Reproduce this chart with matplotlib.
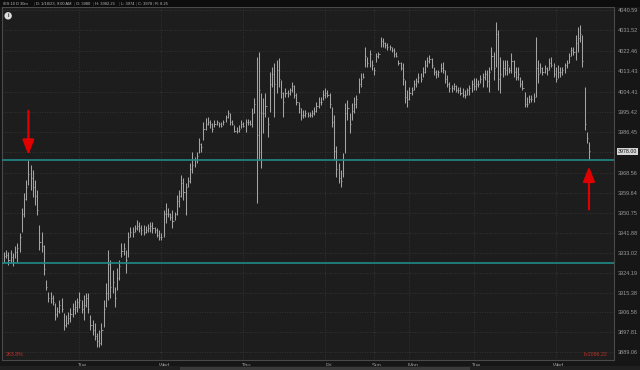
import matplotlib
matplotlib.use("Agg")
import matplotlib.pyplot as plt
import matplotlib.transforms as mtransforms
from matplotlib.collections import LineCollection
from matplotlib.patches import Rectangle
import numpy as np

# /ES 30 minute bars, 10 days (high, low, close)
highs = [
    3933.4, 3934.3, 3933.4, 3934.3, 3933.0, 3936.0, 3937.4, 3941.8, 3952.9, 3959.5,
    3965.3, 3974.1, 3971.9, 3969.7, 3965.3, 3960.8, 3945.3, 3942.2, 3936.5, 3921.0,
    3915.6, 3915.6, 3914.3, 3910.8, 3909.0, 3912.1, 3913.0, 3906.4, 3905.5, 3906.8,
    3908.6, 3910.8, 3912.1, 3913.0, 3915.6, 3912.1, 3914.3, 3915.2, 3915.2, 3905.5,
    3903.2, 3901.9, 3897.5, 3898.8, 3901.9, 3912.1, 3919.7, 3934.3, 3929.8, 3925.4,
    3917.8, 3926.3, 3929.8, 3937.4, 3937.4, 3934.3, 3942.2, 3944.4, 3944.4, 3945.3,
    3947.5, 3946.6, 3945.3, 3945.3, 3944.9, 3945.7, 3946.6, 3946.6,
    3944.4, 3944.0, 3943.1, 3941.8, 3952.0, 3955.1, 3952.9, 3950.7, 3952.0, 3951.1,
    3958.6, 3960.8, 3967.5, 3966.2, 3963.9, 3966.6, 3972.8, 3977.7, 3975.4, 3977.7,
    3983.9, 3981.7, 3990.9, 3992.6, 3993.1, 3991.8, 3990.5, 3991.8, 3991.8, 3990.9,
    3990.9, 3991.8, 3994.1, 3996.3, 3995.0, 3991.8, 3989.6, 3988.7, 3989.6, 3991.8,
    3990.9, 3992.3, 3992.3, 3991.8, 3997.2, 4001.6, 4019.7, 4022.0, 4003.8, 4001.6,
    4003.8, 3993.1, 4013.1, 4015.3, 4017.1, 4018.4, 4019.3, 4009.6, 4004.2, 4006.0,
    4005.1, 4006.0, 4008.7, 4007.3, 4003.8, 3999.8, 3997.2, 3996.3, 3996.3, 3995.4,
    3995.4, 3996.3, 3997.6, 3999.8, 4002.0, 4002.0, 4005.1, 4006.0, 4005.1, 4003.8,
    3997.6, 3994.1, 3980.3, 3972.8, 3969.7, 3977.3, 3999.4, 4000.7, 3995.0, 3999.4,
    4002.0, 4002.9, 4010.5, 4012.7, 4012.7, 4024.2, 4019.7, 4022.9, 4018.4, 4015.3,
    4021.6, 4022.0, 4028.6, 4028.2, 4026.4, 4025.9, 4025.1, 4024.2, 4023.7, 4022.0,
    4018.4, 4017.5, 4017.1, 4009.6, 4005.1, 4006.4, 4006.4, 4009.6, 4010.5, 4012.7,
    4012.7, 4015.3, 4018.4, 4019.7, 4020.6, 4019.3, 4015.3, 4014.0, 4014.0, 4017.1,
    4017.5, 4014.0, 4011.8, 4008.7, 4007.3, 4008.3, 4007.3, 4006.4, 4006.4, 4006.0,
    4005.1, 4006.0, 4007.3, 4009.6, 4010.5, 4010.5, 4009.6, 4011.8, 4012.7, 4014.0,
    4014.0, 4015.3, 4024.2, 4022.0, 4035.3, 4031.7, 4019.7, 4018.4, 4018.4, 4018.4,
    4015.3, 4021.6, 4018.4, 4015.3, 4015.3, 4010.9, 4009.6, 4004.2, 4002.0, 4002.9,
    4002.9, 4003.8, 4028.6, 4018.4, 4017.1, 4015.3, 4016.2, 4015.3, 4019.3, 4019.7,
    4017.1, 4015.3, 4016.2, 4015.3, 4015.3, 4017.1, 4018.4, 4021.6, 4024.2, 4024.2,
    4029.5, 4033.0, 4033.9, 4029.5, 4006.4, 3986.5, 3982.25,
]
lows = [
    3928.9, 3930.8, 3927.6, 3928.5, 3927.1, 3930.8, 3928.9, 3933.4, 3942.2, 3948.8,
    3956.4, 3963.0, 3960.8, 3957.7, 3954.2, 3949.8, 3934.3, 3933.4, 3923.2, 3916.5,
    3911.2, 3910.8, 3909.9, 3903.2, 3904.6, 3906.4, 3906.8, 3898.8, 3900.1, 3901.5,
    3902.4, 3904.6, 3906.0, 3906.8, 3908.6, 3906.4, 3903.2, 3909.0, 3906.4, 3898.8,
    3896.6, 3894.4, 3891.3, 3891.3, 3892.2, 3900.1, 3909.0, 3912.1, 3913.0, 3915.2,
    3909.0, 3916.5, 3921.0, 3931.2, 3932.1, 3924.1, 3931.2, 3940.0, 3940.0, 3942.2,
    3943.1, 3942.2, 3940.9, 3940.9, 3941.8, 3942.2, 3942.2, 3941.8,
    3941.8, 3940.0, 3938.7, 3938.7, 3940.0, 3946.2, 3948.8, 3947.5, 3944.0, 3947.5,
    3949.8, 3953.3, 3957.7, 3956.4, 3949.8, 3962.2, 3963.9, 3968.4, 3971.0, 3972.8,
    3977.3, 3977.7, 3983.0, 3987.4, 3989.6, 3988.3, 3986.5, 3988.7, 3989.6, 3988.7,
    3988.7, 3989.6, 3990.9, 3992.7, 3989.6, 3989.6, 3986.5, 3986.1, 3986.5, 3988.3,
    3988.7, 3986.5, 3989.6, 3989.6, 3988.7, 3995.0, 3955.1, 3974.1, 3970.6, 3986.1,
    3993.1, 3984.3, 3995.4, 4006.4, 3993.1, 4003.8, 4006.4, 4001.6, 3993.1, 4002.0,
    4002.0, 4002.9, 4004.2, 4001.6, 3998.5, 3995.0, 3991.8, 3992.7, 3993.1, 3993.1,
    3993.1, 3993.1, 3994.1, 3995.4, 3997.2, 3998.5, 4000.7, 4001.6, 4002.0, 3997.2,
    3988.7, 3974.1, 3966.6, 3963.9, 3962.2, 3966.6, 3977.3, 3991.8, 3986.1, 3991.8,
    3995.0, 3997.2, 4003.8, 4006.4, 4010.5, 4015.3, 4015.3, 4015.3, 4014.0, 4011.8,
    4017.5, 4019.3, 4024.2, 4024.2, 4023.7, 4022.9, 4022.9, 4022.0, 4019.7, 4019.7,
    4016.2, 4014.0, 4007.3, 3999.4, 3997.6, 4000.7, 4002.9, 4005.1, 4006.4, 4008.3,
    4008.7, 4010.9, 4012.7, 4015.3, 4017.1, 4014.9, 4011.8, 4010.5, 4010.9, 4013.1,
    4012.7, 4008.3, 4006.4, 4004.2, 4004.2, 4005.1, 4004.2, 4003.8, 4002.9, 4002.0,
    4001.6, 4002.9, 4002.9, 4004.2, 4005.1, 4005.1, 4006.4, 4008.3, 4006.4, 4009.6,
    4006.4, 4004.2, 4014.0, 4009.6, 4015.3, 4005.1, 4003.8, 4010.9, 4011.8, 4011.8,
    4012.7, 4012.7, 4010.9, 4009.6, 4009.6, 4006.4, 4005.1, 3997.6, 3997.6, 3999.4,
    3999.8, 3999.8, 4002.0, 4008.3, 4012.7, 4011.8, 4012.7, 4011.8, 4014.0, 4015.3,
    4010.9, 4008.7, 4010.5, 4010.9, 4011.8, 4012.7, 4014.9, 4017.1, 4020.2, 4020.6,
    4018.4, 4022.0, 4026.4, 4015.3, 3987.4, 3981.7, 3974.0,
]
closes = [
    3931.6, 3932.0, 3930.0, 3931.0, 3929.0, 3933.5, 3935.0, 3940.0, 3950.0, 3957.0,
    3962.0, 3968.0, 3966.0, 3962.0, 3958.0, 3952.0, 3938.0, 3936.0, 3926.0, 3918.0,
    3913.0, 3913.0, 3911.0, 3906.0, 3907.0, 3910.0, 3908.0, 3901.0, 3902.0, 3904.0,
    3906.0, 3908.0, 3909.0, 3911.0, 3912.0, 3908.0, 3910.0, 3913.0, 3908.0, 3901.0,
    3899.0, 3896.0, 3894.0, 3893.0, 3899.0, 3908.0, 3915.0, 3928.0, 3918.0, 3920.0,
    3913.0, 3922.0, 3927.0, 3934.0, 3935.0, 3930.0, 3940.0, 3942.0, 3942.0, 3944.0,
    3945.0, 3944.0, 3943.0, 3942.0, 3943.0, 3944.0, 3945.0, 3944.0,
    3943.0, 3941.0, 3940.0, 3940.0, 3950.0, 3950.0, 3950.0, 3949.0, 3947.0, 3950.0,
    3956.0, 3958.0, 3964.0, 3960.0, 3962.0, 3965.0, 3970.0, 3972.0, 3974.0, 3976.0,
    3981.0, 3980.0, 3988.0, 3990.0, 3991.0, 3990.0, 3988.0, 3990.0, 3991.0, 3990.0,
    3989.0, 3991.0, 3993.0, 3995.0, 3991.0, 3990.0, 3987.0, 3987.0, 3988.0, 3990.0,
    3989.0, 3991.0, 3991.0, 3990.0, 3995.0, 3999.0, 3985.0, 4005.0, 3995.0, 3995.0,
    3998.0, 3990.0, 4008.0, 4012.0, 4008.0, 4014.0, 4010.0, 4004.0, 4000.0, 4004.0,
    4004.0, 4005.0, 4007.0, 4003.0, 4000.0, 3997.0, 3994.0, 3994.0, 3995.0, 3994.0,
    3994.0, 3995.0, 3996.0, 3998.0, 4000.0, 4000.0, 4003.0, 4004.0, 4003.0, 3999.0,
    3991.0, 3978.0, 3970.0, 3966.0, 3965.0, 3974.0, 3995.0, 3997.0, 3990.0, 3996.0,
    3999.0, 4001.0, 4008.0, 4010.0, 4011.0, 4020.0, 4017.0, 4021.0, 4016.0, 4014.0,
    4020.0, 4021.0, 4027.0, 4026.0, 4025.0, 4024.0, 4024.0, 4023.0, 4021.0, 4020.0,
    4017.0, 4015.0, 4010.0, 4002.0, 4001.0, 4004.0, 4005.0, 4008.0, 4009.0, 4011.0,
    4010.0, 4013.0, 4016.0, 4018.0, 4019.0, 4016.0, 4013.0, 4012.0, 4013.0, 4015.0,
    4014.0, 4010.0, 4008.0, 4006.0, 4006.0, 4007.0, 4005.0, 4005.0, 4004.0, 4003.0,
    4003.0, 4005.0, 4006.0, 4008.0, 4007.0, 4008.0, 4008.0, 4010.0, 4011.0, 4012.0,
    4009.0, 4013.0, 4020.0, 4015.0, 4030.0, 4010.0, 4012.0, 4015.0, 4014.0, 4016.0,
    4014.0, 4018.0, 4013.0, 4011.0, 4012.0, 4008.0, 4006.0, 3999.0, 3999.0, 4001.0,
    4001.0, 4002.0, 4015.0, 4012.0, 4015.0, 4013.0, 4015.0, 4014.0, 4017.0, 4016.0,
    4012.0, 4010.0, 4013.0, 4013.0, 4014.0, 4016.0, 4017.0, 4020.0, 4023.0, 4022.0,
    4026.0, 4028.0, 4030.0, 4018.0, 3990.0, 3984.0, 3978.0,
]

support_levels = [3974.0, 3928.5]
price_ticks = [4040.59, 4031.52, 4022.46, 4013.43, 4004.41, 3995.42, 3986.45, 3977.49,
               3968.56, 3959.64, 3950.75, 3941.88, 3933.02, 3924.19, 3915.38, 3906.58,
               3897.81, 3889.06]
session_starts = [34, 71, 108, 145, 167, 183, 212, 249]
session_labels = ["Tue", "Wed", "Thu", "Fri", "Sun", "Mon", "Tue", "Wed"]
header = ["/ES 10 D 30m", "D: 1/18/23, 9:00 AM", "O: 3980", "H: 3982.25",
          "L: 3974", "C: 3978", "R: 8.25"]

plt.rcParams['font.family'] = ['Liberation Sans', 'DejaVu Sans']

fig = plt.figure(figsize=(6.4, 3.7), dpi=100, facecolor='#161616')
ax = fig.add_axes([2/640, 1 - 360/370, 612/640, 353/370], facecolor='#1d1d1d')

n = len(closes)
idx = np.arange(n)
bars = [[(i, lo), (i, hi)] for i, lo, hi in zip(idx, lows, highs)]
ticks = [[(i, c), (i + 0.5, c)] for i, c in zip(idx, closes)]
ax.add_collection(LineCollection(bars, colors='#a4a4a4', linewidths=0.75, zorder=3))
ax.add_collection(LineCollection(ticks, colors='#a4a4a4', linewidths=0.6, zorder=3))

for lvl in support_levels:
    ax.axhline(lvl, color='#1f8b8b', lw=1.2, zorder=4)

for s in session_starts:
    ax.axvline(s, color='#3a3a3a', lw=0.6, ls=(0, (1, 2)), zorder=1)

ax.set_xlim(-0.9, 275.3)
ax.set_ylim(3885.5, 4041.9)

# the last price tag hides the label next to it
ax.yaxis.tick_right()
ax.set_yticks(price_ticks)
ax.set_yticklabels(["" if abs(t - closes[-1]) < 3 else "%.2f" % t for t in price_ticks])
ax.grid(axis='y', color='#3a3a3a', lw=0.6, ls=(0, (1, 2)), zorder=1)
ax.tick_params(axis='y', length=0, pad=3, labelsize=4, labelcolor='#9a9a9a')
ax.set_xticks([s + 1.4 for s in session_starts])
ax.set_xticklabels(session_labels)
ax.tick_params(axis='x', length=0, pad=2, labelsize=4, labelcolor='#9a9a9a')
for sp in ax.spines.values():
    sp.set_color('#4a4a4a')
    sp.set_linewidth(0.8)

# red arrows: the peak on the left and the last bar
peak = int(np.argmax(highs[:40]))
ax.annotate('', xy=(peak, highs[peak] + 1.0), xytext=(peak, highs[peak] + 23),
            arrowprops=dict(arrowstyle='-|>,head_length=0.9,head_width=0.35',
                            mutation_scale=10, color='#e00000', lw=1.6), zorder=6)
last = n - 1
ax.annotate('', xy=(last, lows[last] - 1.5), xytext=(last, lows[last] - 23),
            arrowprops=dict(arrowstyle='-|>,head_length=0.9,head_width=0.35',
                            mutation_scale=10, color='#e00000', lw=1.6), zorder=6)

# price tag on the right axis
trans = mtransforms.blended_transform_factory(ax.transAxes, ax.transData)
ax.text(1.006, closes[-1], "%.2f" % closes[-1], transform=trans, fontsize=3.8,
        color='#111111', va='center', ha='left', clip_on=False, zorder=10,
        bbox=dict(boxstyle='square,pad=0.2', fc='#d6d6d6', ec='none'))

ax.text(0.006, 0.012, "263.8%", transform=ax.transAxes, fontsize=3.8, color='#c0302a')
ax.text(0.99, 0.012, "b-2086.22", transform=ax.transAxes, fontsize=3.8,
        color='#c0302a', ha='right')

# header strip
fig.add_artist(Rectangle((0, 1 - 7/370), 1, 7/370, transform=fig.transFigure,
                         fc='#0d0d0d', ec='none'))
hx = [3, 36, 76, 95, 121, 138, 155]
for x, t in zip(hx, header):
    fig.text(x/640, 1 - 3.6/370, t, fontsize=2.9, color='#b8b8b8', va='center')
for x in hx[1:]:
    fig.text((x - 2.2)/640, 1 - 3.6/370, "|", fontsize=2.9, color='#555555', va='center')
ax.text(0.01, 0.975, "i", transform=ax.transAxes, fontsize=3.5, color='#1d1d1d',
        ha='center', va='center', fontweight='bold',
        bbox=dict(boxstyle='circle,pad=0.25', fc='#dddddd', ec='none'))

# scrollbar at the bottom
fig.add_artist(Rectangle((0, 0), 1, 4/370, transform=fig.transFigure, fc='#202020', ec='none'))
fig.add_artist(Rectangle((180/640, 0.5/370), 290/640, 3/370, transform=fig.transFigure,
                         fc='#3a3a3a', ec='none'))

fig.savefig("out.png", dpi=100, facecolor=fig.get_facecolor())
